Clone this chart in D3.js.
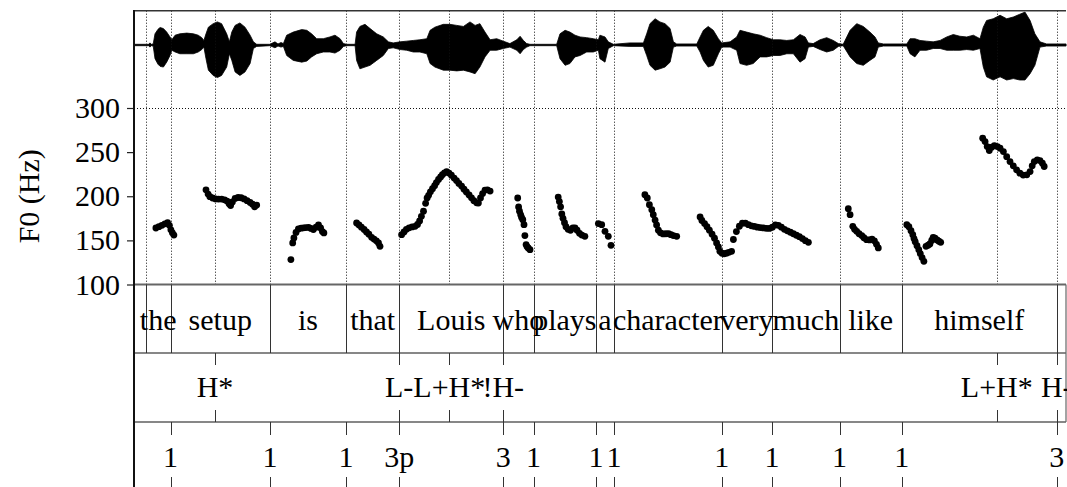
<!DOCTYPE html>
<html><head><meta charset="utf-8">
<script src="https://cdn.jsdelivr.net/npm/d3@7"></script>
<style>
body{margin:0;background:#fff}
svg{display:block}
text{font-family:"Liberation Serif","Times New Roman",serif;fill:#000}
</style>
</head><body>
<svg id="chart" width="1067" height="487"></svg>
<script>
// ---------- DATA ----------
const wordLabels = ["the","setup","is","that","Louis","who","plays","a","character","very","much","like","himself"];
const wordStarts = [0.039,0.122,0.453,0.707,0.884,1.231,1.332,1.540,1.600,1.959,2.127,2.352,2.559];
const wordEnds   = [0.122,0.453,0.707,0.884,1.231,1.332,1.540,1.600,1.959,2.127,2.352,2.559,3.076];

const toneLabels = ["H*","L-","L+H*","!H-","L+H*","H-"];
const toneTimes  = [0.270,0.884,1.051,1.231,2.876,3.076];

const breakLabels = ["1","1","1","3p","3","1","1","1","1","1","1","1","3"];
const breakTimes  = [0.122,0.453,0.707,0.884,1.231,1.332,1.540,1.600,1.959,2.127,2.352,2.559,3.076];

const f0Ticks = [100,150,200,250,300];

const f0Times = [
 0.073,0.083,0.093,0.103,0.112,0.118,0.123,0.128,0.133,
 0.240,0.247,0.253,0.262,0.272,0.282,0.292,0.302,0.310,0.317,0.322,0.328,0.337,0.347,0.357,0.367,0.377,0.387,0.395,0.402,0.409,
 0.523,0.529,0.533,0.540,0.548,0.557,0.565,0.573,0.582,0.590,0.598,0.607,0.615,0.622,0.628,0.633,
 0.742,0.750,0.758,0.767,0.775,0.783,0.792,0.800,0.808,0.815,0.820,
 0.892,0.900,0.908,0.917,0.927,0.937,0.945,0.952,0.958,0.965,0.972,0.977,0.982,0.988,0.995,1.002,1.008,1.015,1.022,1.028,1.035,1.042,1.050,1.058,1.067,1.075,1.083,1.092,1.100,1.108,1.117,1.125,1.133,1.142,1.148,1.155,1.162,1.170,1.178,1.187,
 1.279,1.282,1.285,1.289,1.292,1.296,1.300,1.303,1.307,1.310,1.314,1.320,
 1.414,1.418,1.422,1.426,1.430,1.435,1.440,1.447,1.455,1.463,1.470,1.477,1.485,1.493,1.503,
 1.548,1.559,1.570,1.581,1.590,
 1.703,1.711,1.718,1.726,1.731,1.737,1.742,1.748,1.755,1.764,1.773,1.782,1.790,1.798,1.809,
 1.887,1.893,1.902,1.910,1.918,1.927,1.935,1.942,1.948,1.953,1.960,1.967,1.975,1.983,1.992,
 1.998,2.008,2.018,2.028,2.038,2.048,2.058,2.068,2.078,2.088,2.098,2.108,2.118,2.128,2.138,2.148,2.158,2.168,2.178,2.188,2.198,2.208,2.218,2.228,2.238,2.248,
 2.381,2.387,2.396,2.402,2.409,2.417,2.426,2.433,2.442,2.452,2.460,2.468,2.475,2.481,
 2.576,2.583,2.590,2.596,2.600,2.604,2.610,2.616,2.621,2.627,2.633,2.640,2.647,2.653,2.659,2.664,2.670,2.677,2.683,2.689,
 2.829,2.837,2.844,2.851,2.859,2.868,2.878,2.887,2.898,2.909,2.920,2.931,2.942,2.953,2.964,2.976,2.987,2.994,3.001,3.011,3.020,3.028,3.034
];
const f0Values = [
 164,165.5,167,168.7,170,167,162,158.5,156,
 207.3,202.5,199.5,198,197,196.8,196.8,196,194.5,191.5,189.5,193.5,197.5,198.6,198.3,197,195,193,191,188,190,
 128.2,147.1,152.8,159,162.9,163.8,164.2,164.5,164.8,163.5,162.3,165,167.4,164,160,158.4,
 169.7,167.5,165,162.3,159.5,157,153.4,151.5,149.5,147,143.3,
 156.5,159.5,162.5,164.2,165.2,165.9,168,172,177.2,183,192,198,201,205,208.5,212,215.5,219,221.8,224.5,226.5,228,226.3,223.8,220.6,217.8,214.5,211.5,208,204.8,201.5,198.2,195,192.5,192.3,198,203,207,207.3,205.9,
 198,187.8,183,179,176,173.4,167.8,155.4,145.2,143,141.5,139.5,
 199.1,194,188,179.9,175,170,165.5,162.5,161.5,164.2,164,161.5,158,156,154.6,
 169,167.8,160.2,154.6,144.4,
 201.7,198,190.4,184.7,179.1,173,167.5,161.5,158.5,157.3,157.5,157.5,156.5,155.4,154.6,
 176.5,172.5,169,165.5,161.5,157,152.5,147.1,142.5,137.6,135.5,134.7,135.5,136.5,137.6,
 151,160,166,169.5,169.5,167.8,166.5,165.8,165,164.5,164.1,163.7,163.5,165,167.5,167,165,162.5,160.8,159.2,157.5,155.8,154.2,152,149.7,147.8,
 185.9,179.1,165.9,162.5,160.2,157.5,155.4,153,150.8,150.5,151.5,149.5,145.5,141.5,
 167.8,165.5,161,156.5,152,148.5,144,139.5,135,130.5,126.3,143.3,144.5,146,150,153.5,152.5,150.5,149,147.8,
 265.8,262,256.3,251.8,255.6,257.4,256.3,254.4,250.6,244.9,239.3,234.5,230,226.2,224,224.3,228,234.5,239.3,241.2,240.4,237.5,233.7
];

// waveform envelope (normalised amplitude)
const waveTimes = [0,0.050,0.053,0.058,0.064,0.070,0.080,0.087,0.098,0.109,0.120,0.126,0.137,0.153,0.176,0.198,0.214,0.226,0.233,0.240,0.248,0.264,0.278,0.292,0.309,0.318,0.326,0.337,0.353,0.370,0.387,0.398,0.409,0.453,0.470,0.480,0.490,0.498,0.509,0.531,0.559,0.576,0.592,0.609,0.631,0.653,0.670,0.687,0.698,0.709,0.737,0.742,0.753,0.770,0.787,0.809,0.831,0.848,0.864,0.887,0.909,0.931,0.953,0.976,0.987,1.003,1.031,1.053,1.076,1.098,1.120,1.137,1.153,1.170,1.187,1.209,1.231,1.253,1.276,1.287,1.298,1.309,1.320,1.409,1.420,1.437,1.453,1.470,1.487,1.509,1.531,1.548,1.553,1.570,1.581,1.598,1.653,1.698,1.709,1.720,1.737,1.753,1.770,1.787,1.798,1.809,1.876,1.887,1.898,1.914,1.931,1.948,1.959,1.987,2.009,2.020,2.042,2.064,2.087,2.109,2.131,2.153,2.176,2.198,2.220,2.237,2.248,2.264,2.287,2.309,2.331,2.348,2.364,2.387,2.409,2.431,2.453,2.470,2.481,2.498,2.576,2.587,2.603,2.620,2.642,2.664,2.687,2.709,2.731,2.753,2.776,2.798,2.820,2.831,2.842,2.864,2.887,2.909,2.931,2.953,2.970,2.987,3.003,3.020,3.042,3.107];
const waveMax = [0.02,0.02,0.06,0.02,0.03,0.32,0.45,0.50,0.47,0.37,0.23,0.15,0.28,0.32,0.34,0.32,0.28,0.21,0.13,0.32,0.51,0.61,0.66,0.61,0.32,0.09,0.37,0.56,0.63,0.51,0.28,0.09,0.02,0.02,0.09,0.03,0.07,0.04,0.28,0.37,0.44,0.42,0.32,0.18,0.18,0.23,0.28,0.18,0.04,0.02,0.02,0.37,0.53,0.59,0.47,0.32,0.23,0.09,0.06,0.09,0.11,0.13,0.15,0.18,0.42,0.51,0.59,0.59,0.56,0.53,0.66,0.56,0.61,0.37,0.15,0.18,0.11,0.04,0.15,0.25,0.13,0.04,0.02,0.02,0.32,0.42,0.37,0.28,0.23,0.21,0.18,0.15,0.28,0.23,0.09,0.02,0.06,0.06,0.32,0.61,0.75,0.66,0.61,0.47,0.09,0.03,0.03,0.23,0.42,0.53,0.42,0.18,0.06,0.09,0.23,0.42,0.37,0.32,0.28,0.21,0.15,0.15,0.13,0.15,0.30,0.23,0.06,0.04,0.15,0.21,0.13,0.04,0.02,0.42,0.61,0.53,0.37,0.23,0.06,0.03,0.03,0.18,0.18,0.13,0.11,0.09,0.13,0.23,0.30,0.25,0.23,0.28,0.18,0.51,0.70,0.75,0.85,0.75,0.80,0.88,0.94,0.70,0.32,0.09,0.03,0.03];
const waveMin = [-0.02,-0.02,-0.06,-0.02,-0.03,-0.39,-0.55,-0.61,-0.63,-0.49,-0.30,-0.15,-0.20,-0.25,-0.25,-0.25,-0.20,-0.13,-0.06,-0.39,-0.72,-0.87,-0.93,-0.87,-0.63,-0.25,-0.44,-0.77,-0.87,-0.77,-0.53,-0.10,-0.04,-0.02,-0.08,-0.03,-0.06,-0.04,-0.30,-0.44,-0.49,-0.46,-0.34,-0.25,-0.20,-0.20,-0.23,-0.15,-0.04,-0.02,-0.02,-0.44,-0.68,-0.63,-0.58,-0.44,-0.30,-0.10,-0.08,-0.13,-0.15,-0.20,-0.20,-0.25,-0.53,-0.63,-0.72,-0.72,-0.74,-0.72,-0.77,-0.82,-0.63,-0.34,-0.15,-0.15,-0.10,-0.06,-0.15,-0.25,-0.13,-0.06,-0.02,-0.02,-0.39,-0.58,-0.53,-0.34,-0.30,-0.20,-0.20,-0.15,-0.39,-0.49,-0.10,-0.02,-0.04,-0.04,-0.30,-0.58,-0.72,-0.68,-0.63,-0.49,-0.06,-0.03,-0.03,-0.20,-0.44,-0.63,-0.58,-0.25,-0.06,-0.06,-0.15,-0.53,-0.58,-0.53,-0.34,-0.34,-0.30,-0.30,-0.25,-0.25,-0.49,-0.39,-0.06,-0.04,-0.13,-0.20,-0.15,-0.04,-0.02,-0.34,-0.53,-0.58,-0.44,-0.34,-0.06,-0.03,-0.03,-0.25,-0.34,-0.15,-0.15,-0.10,-0.10,-0.15,-0.15,-0.15,-0.13,-0.15,-0.10,-0.63,-0.91,-1.0,-0.91,-1.0,-0.96,-1.0,-1.0,-0.82,-0.58,-0.06,-0.03,-0.03];

// ---------- LAYOUT ----------
const W = 1067, H = 487;
const L = 134, R = 1066;
const topY = 10.7, f0Bottom = 284.5, wordBottom = 353, toneBottom = 422;

const svg = d3.select("#chart");
const x = d3.scaleLinear().domain([0, 3.1067]).range([L, R]);
const yF0 = d3.scaleLinear().domain([100, 300]).range([f0Bottom, 108]);
const yW = d3.scaleLinear().domain([-1, 1]).range([80, 10]);

// waveform
const wave = waveTimes.map((t,i)=>({t, hi: waveMax[i], lo: waveMin[i]}));
svg.append("path").datum(wave)
  .attr("d", d3.area().x(d=>x(d.t)).y0(d=>yW(d.lo)).y1(d=>yW(d.hi)))
  .attr("fill","#000").attr("stroke","#000").attr("stroke-width",0.8);

// dotted vertical boundary lines (words + tones)
const allBounds = Array.from(new Set(wordStarts.concat(wordEnds, toneTimes))).sort((a,b)=>a-b);
svg.append("g").selectAll("line").data(allBounds).join("line")
  .attr("x1",d=>Math.round(x(d))+0.5).attr("x2",d=>Math.round(x(d))+0.5)
  .attr("y1",topY).attr("y2",f0Bottom)
  .attr("stroke","#111").attr("stroke-width",1).attr("stroke-dasharray","1,2");

// dotted horizontal at top of F0 range
svg.append("line").attr("x1",L).attr("x2",R).attr("y1",Math.round(yF0(300))+0.5).attr("y2",Math.round(yF0(300))+0.5)
  .attr("stroke","#111").attr("stroke-dasharray","1,2");

// F0 points
svg.append("g").selectAll("circle").data(f0Times.map((t,i)=>({t,v:f0Values[i]}))).join("circle")
  .attr("cx",d=>x(d.t)).attr("cy",d=>yF0(d.v)).attr("r",3.4).attr("fill","#000");

// frame lines
svg.append("line").attr("x1",L).attr("x2",R).attr("y1",topY).attr("y2",topY).attr("stroke","#333").attr("stroke-width",1.6);
svg.append("line").attr("x1",L).attr("x2",R).attr("y1",f0Bottom).attr("y2",f0Bottom).attr("stroke","#666").attr("stroke-width",1.8);
svg.append("line").attr("x1",L).attr("x2",R).attr("y1",wordBottom).attr("y2",wordBottom).attr("stroke","#111").attr("stroke-width",1.2);
svg.append("line").attr("x1",L).attr("x2",R).attr("y1",toneBottom).attr("y2",toneBottom).attr("stroke","#111").attr("stroke-width",1.2);
svg.append("line").attr("x1",R).attr("x2",R).attr("y1",f0Bottom).attr("y2",toneBottom).attr("stroke","#666").attr("stroke-width",1.2);

// word tier boundaries
const wordBounds = Array.from(new Set(wordStarts.concat(wordEnds))).sort((a,b)=>a-b);
svg.append("g").selectAll("line").data(wordBounds).join("line")
  .attr("x1",d=>Math.round(x(d))+0.5).attr("x2",d=>Math.round(x(d))+0.5)
  .attr("y1",f0Bottom).attr("y2",wordBottom).attr("stroke","#333").attr("stroke-width",1);

// word labels
svg.append("g").selectAll("text").data(wordLabels).join("text")
  .attr("x",(d,i)=>x((wordStarts[i]+wordEnds[i])/2)).attr("y",330)
  .attr("text-anchor","middle").attr("font-size",30).text(d=>d);

// tone tier ticks + labels
const toneG = svg.append("g");
toneG.selectAll("line.t").data(toneTimes).join("line")
  .attr("x1",d=>Math.round(x(d))+0.5).attr("x2",d=>Math.round(x(d))+0.5)
  .attr("y1",wordBottom).attr("y2",wordBottom+12).attr("stroke","#333");
toneG.selectAll("line.b").data(toneTimes).join("line")
  .attr("x1",d=>Math.round(x(d))+0.5).attr("x2",d=>Math.round(x(d))+0.5)
  .attr("y1",toneBottom-12).attr("y2",toneBottom).attr("stroke","#333");
toneG.selectAll("text").data(toneLabels).join("text")
  .attr("x",(d,i)=>x(toneTimes[i])).attr("y",397)
  .attr("text-anchor","middle").attr("font-size",30).text(d=>d);

// break tier ticks + labels
const brG = svg.append("g");
brG.selectAll("line.t").data(breakTimes).join("line")
  .attr("x1",d=>Math.round(x(d))+0.5).attr("x2",d=>Math.round(x(d))+0.5)
  .attr("y1",toneBottom).attr("y2",toneBottom+13).attr("stroke","#333");
brG.selectAll("line.b").data(breakTimes).join("line")
  .attr("x1",d=>Math.round(x(d))+0.5).attr("x2",d=>Math.round(x(d))+0.5)
  .attr("y1",477).attr("y2",H).attr("stroke","#333");
brG.selectAll("text").data(breakLabels).join("text")
  .attr("x",(d,i)=>x(breakTimes[i])).attr("y",467)
  .attr("text-anchor","middle").attr("font-size",30).text(d=>d);

// left axis
const ax = svg.append("g").attr("transform",`translate(${L},0)`)
  .call(d3.axisLeft(yF0).tickValues(f0Ticks).tickSize(7).tickPadding(7).tickFormat(d3.format("d")));
ax.select(".domain").remove();
ax.selectAll(".tick line").attr("stroke","#222").attr("stroke-width",1.2);
ax.selectAll(".tick text").attr("font-size",30).attr("font-family",'"Liberation Serif","Times New Roman",serif').attr("fill","#000");
svg.append("line").attr("x1",L).attr("x2",L).attr("y1",topY-0.8).attr("y2",H).attr("stroke","#111").attr("stroke-width",2);

// y label
svg.append("text").attr("transform",`translate(39,${yF0(200)}) rotate(-90)`)
  .attr("text-anchor","middle").attr("font-size",30).text("F0 (Hz)");
</script>
</body></html>
